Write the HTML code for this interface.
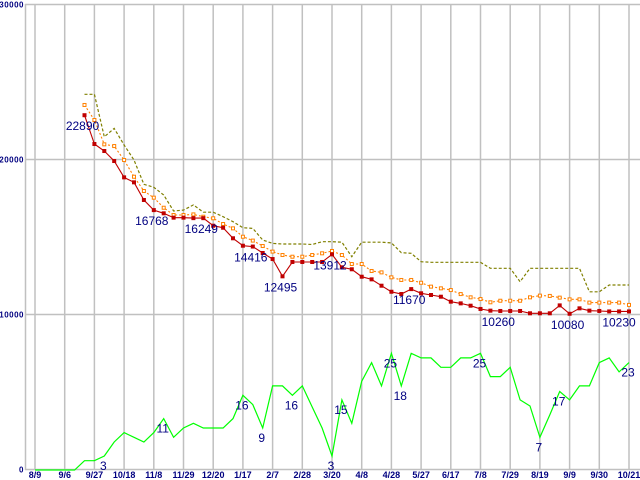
<!DOCTYPE html>
<html><head><meta charset="utf-8">
<style>
html,body{margin:0;padding:0;background:#fff;}
svg{display:block;}
text{font-family:"Liberation Sans",sans-serif;}
</style></head>
<body>
<svg id="chart" width="640" height="480" xmlns="http://www.w3.org/2000/svg">
<g id="grid"></g>
<g id="axes"></g>
<g id="series"></g>
<g id="labels"></g>
</svg>
<script>
const xTickLabels = ["8/9","9/6","9/27","10/18","11/8","11/29","12/20","1/17","2/7","2/28","3/20","4/8","4/28","5/27","6/17","7/8","7/29","8/19","9/9","9/30","10/21"];
const yTickValues = [0,10000,20000,30000];
const priceStart = 5;
const price = [22890,21032,20580,19935,18880,18560,17420,16768,16560,16280,16280,16249,16249,15760,15630,14950,14470,14416,14000,13610,12495,13420,13420,13420,13420,13912,13075,12950,12470,12300,11890,11500,11355,11670,11400,11290,11180,10860,10750,10600,10390,10280,10260,10260,10260,10110,10110,10110,10620,10080,10430,10280,10260,10230,10230,10230];
const avg = [23550,22580,21010,20900,20000,18920,18000,17570,16920,16450,16450,16490,16340,16240,15870,15590,15050,14800,14450,14090,13870,13760,13760,13870,13980,14130,13870,13290,13290,12840,12750,12430,12260,12260,12080,11830,11720,11610,11350,11140,11030,10820,10920,10920,10920,11140,11250,11230,11120,11010,11010,10800,10800,10800,10800,10650];
const high = [24240,24240,21500,22040,20970,20000,18430,18240,17740,16710,16770,17100,16630,16630,16340,16020,15630,15590,14840,14620,14580,14580,14580,14550,14730,14730,14700,13760,14700,14700,14700,14650,14020,13980,13440,13400,13400,13400,13400,13400,13400,13010,13010,13010,12150,13010,13010,13010,13010,13010,13010,11500,11500,11935,11935,11935];
const count = [0,0,0,0,0,2,2,3,6,8,7,6,8,11,7,9,10,9,9,9,11,16,14,9,18,18,16,18,13.5,9,3,15,10,19,23,18,25,18,25,24,24,22,22,24,24,25,20,20,22,15,13.7,7,11.8,16.8,15,18,18,23,24,21,23];
const priceLabelIdx = [5,12,17,22,25,30,38,47,54,60];
const priceLabelText = ["22890","16768","16249","14416","12495","13912","11670","10260","10080","10230"];
const countLabelIdx = [7,13,21,23,26,30,31,36,37,45,51,53,60];
const countLabelText = ["3","11","16","9","16","3","15","25","18","25","7","17","23"];

const NS="http://www.w3.org/2000/svg";
const X0=35, DX=9.9, Y0=470, PY=0.0155, CY=4.67;
const xAt=i=>X0+i*DX;
const yP=v=>Y0-v*PY;
const yC=v=>Y0-v*CY;
function mk(tag,attrs,parent){const e=document.createElementNS(NS,tag);for(const k in attrs)e.setAttribute(k,attrs[k]);parent.appendChild(e);return e;}
const grid=document.getElementById('grid'),axes=document.getElementById('axes'),series=document.getElementById('series'),labels=document.getElementById('labels');

xTickLabels.forEach((t,k)=>{
  const x=xAt(k*3);
  const l=mk('line',{x1:x,y1:4,x2:x,y2:470,stroke:'#c0c0c0','stroke-width':1.5},grid);
  
  
  const tx=mk('text',{x:x,y:478,'font-size':9,'font-weight':'bold',fill:'#000080','text-anchor':'middle'},axes);
  tx.textContent=t;
  
  
});
yTickValues.forEach(v=>{
  const y=yP(v)-0.5;
  const l=mk('line',{x1:25,y1:y,x2:640,y2:y,stroke:'#c0c0c0','stroke-width':1.5},grid);
  
  
  const tx=mk('text',{x:24,y:y+3,'font-size':8,'font-weight':'bold',fill:'#000080','text-anchor':'end','letter-spacing':'0.5'},axes);
  tx.textContent=String(v);
  
  
});
const ax=mk('line',{x1:25.5,y1:4,x2:25.5,y2:470,stroke:'#c0c0c0','stroke-width':1.5},axes);



function pts(arr,start,fy){return arr.map((v,i)=>xAt(i+start).toFixed(1)+','+fy(v).toFixed(1)).join(' ');}

const hl=mk('polyline',{points:pts(high,priceStart,yP),fill:'none',stroke:'#808000','stroke-width':1.2,'stroke-dasharray':'3,2'},series);


const al=mk('polyline',{points:pts(avg,priceStart,yP),fill:'none',stroke:'#ff8000','stroke-width':1.1,'stroke-dasharray':'2,2'},series);


avg.forEach((v,i)=>{
  const r=mk('rect',{x:xAt(i+priceStart)-1.5,y:yP(v)-1.5,width:3,height:3,fill:'#fff',stroke:'#ff8000','stroke-width':1},series);
  
  
});
const pl=mk('polyline',{points:pts(price,priceStart,yP),fill:'none',stroke:'#c00000','stroke-width':1.1},series);


price.forEach((v,i)=>{
  const r=mk('rect',{x:xAt(i+priceStart)-2,y:yP(v)-2,width:4,height:4,fill:'#c00000'},series);
  
  
});
const cl=mk('polyline',{points:pts(count,0,yC),fill:'none',stroke:'#00ff00','stroke-width':1.2},series);



priceLabelIdx.forEach((idx,k)=>{
  const v=price[idx-priceStart];
  const x=Math.min(xAt(idx)-2,619);
  const t=mk('text',{x:x,y:yP(v)+15,'font-size':12,fill:'#000080','text-anchor':'middle'},labels);
  t.textContent=priceLabelText[k];
  
  
});
countLabelIdx.forEach((idx,k)=>{
  const v=count[idx];
  const t=mk('text',{x:xAt(idx)-1,y:yC(v)+14,'font-size':12,fill:'#000080','text-anchor':'middle'},labels);
  t.textContent=countLabelText[k];
  
  
});
</script>
</body></html>
